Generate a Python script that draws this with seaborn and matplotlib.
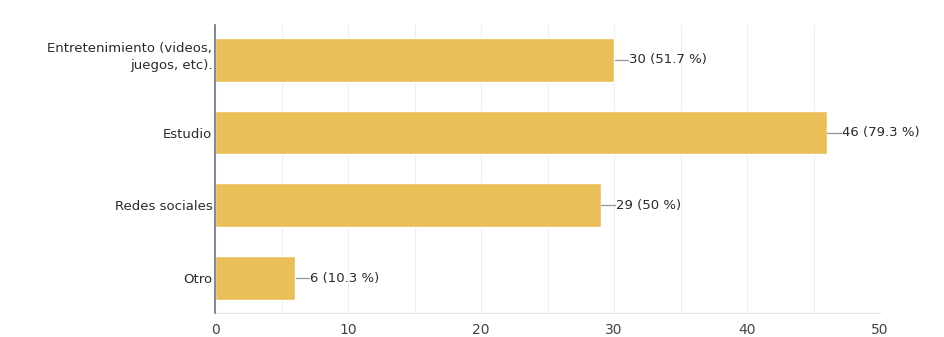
import matplotlib
matplotlib.use("Agg")
import matplotlib.pyplot as plt
import matplotlib.transforms as mtransforms
import seaborn as sns
import pandas as pd

categories = ["Entretenimiento (videos,\njuegos, etc).", "Estudio", "Redes sociales", "Otro"]
counts = [30, 46, 29, 6]
percents = ["51.7", "79.3", "50", "10.3"]
x_ticks = [0, 10, 20, 30, 40, 50]

df = pd.DataFrame({"categoria": categories, "respuestas": counts})

sns.set_theme(style="white")
plt.rcParams["font.family"] = ["DejaVu Sans"]

fig = plt.figure(figsize=(9.44, 3.37), dpi=100)
ax = fig.add_axes([0.2278, 0.0712, 0.7044, 0.855])

sns.barplot(data=df, x="respuestas", y="categoria", orient="h",
            color="#EABF57", saturation=1, width=0.6, ax=ax, zorder=3)

ax.set_xlim(0, 50)
ax.set_xticks(x_ticks)
ax.set_xticks(range(0, 51, 5), minor=True)
ax.grid(axis="x", which="both", color="#eeeeee", linewidth=0.8, zorder=0)
ax.set_axisbelow(True)
ax.set_xlabel("")
ax.set_ylabel("")

for s in ["top", "right"]:
    ax.spines[s].set_visible(False)
ax.spines["bottom"].set_color("#e6e6e6")
ax.spines["bottom"].set_linewidth(0.8)
ax.spines["left"].set_color("#6b7486")
ax.spines["left"].set_linewidth(1.2)
ax.spines["left"].set_zorder(4)

ax.tick_params(axis="x", which="both", length=0, labelsize=10, labelcolor="#444444", pad=7)
ax.tick_params(axis="y", length=0, labelsize=9.5, labelcolor="#2a2a2a", pad=2)

# the two-line category label sits a little above its bar
ylabels = ax.get_yticklabels()
for lbl in ylabels:
    lbl.set_linespacing(1.4)
shift = mtransforms.ScaledTranslation(0, 6 / 100, fig.dpi_scale_trans)
ylabels[0].set_transform(ylabels[0].get_transform() + shift)

# value labels with short leader lines
for i, (c, p) in enumerate(zip(counts, percents)):
    ax.plot([c + 0.05, c + 1.05], [i, i], color="#8e97a5", linewidth=0.9,
            zorder=4, clip_on=False)
    ax.text(c + 1.15, i, f"{c} ({p} %)", va="center", ha="left",
            fontsize=9.5, color="#2a2a2a")

fig.savefig("out.png", dpi=100, facecolor="white")
